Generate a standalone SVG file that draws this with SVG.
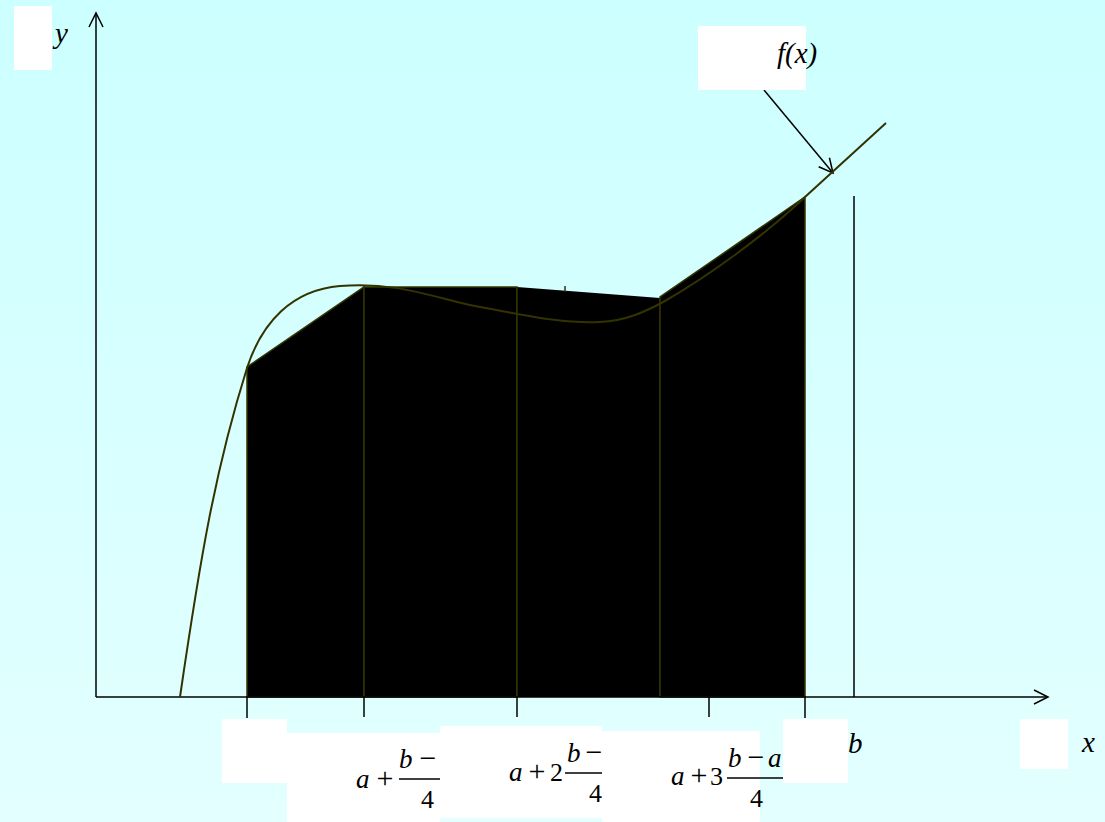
<svg xmlns="http://www.w3.org/2000/svg" width="1105" height="822" viewBox="0 0 1105 822">
<defs>
<linearGradient id="bg" x1="0" y1="0" x2="0" y2="1">
<stop offset="0" stop-color="#CCFFFF"/>
<stop offset="1" stop-color="#E3FFFF"/>
</linearGradient>
<marker id="open" markerWidth="20" markerHeight="20" refX="16" refY="8" orient="auto" markerUnits="userSpaceOnUse">
<path d="M2,1 L16,8 L2,15" fill="none" stroke="#000" stroke-width="1.5"/>
</marker>
</defs>
<style>
.ax{stroke:#000;stroke-width:1.5;fill:none}
.sh{fill:#000;stroke:#333300;stroke-width:1.5}
.cv{fill:none;stroke:#333300;stroke-width:2}
.wb{fill:#fff}
.t{font-family:"Liberation Serif",serif;font-style:italic;font-size:29px;fill:#000}
.n{font-family:"Liberation Serif",serif;font-size:26px;fill:#000}
.op{font-family:"Liberation Serif",serif;font-size:30px;fill:#000;text-anchor:middle}
.it{font-family:"Liberation Serif",serif;font-style:italic;font-size:27px;fill:#000}
.fb{stroke:#000;stroke-width:1.3}
</style>
<rect width="1105" height="822" fill="url(#bg)"/>
<g id="shapes">
<polygon id="strip1" class="sh" points="247,697 247,367 364,287 364,697"/>
<polygon id="strip2" class="sh" points="364,697 364,287 517,287 517,697"/>
<polygon id="strip3" points="517,697 517,287 660,298 660,697" fill="#000"/>
<path d="M517,697 L517,287 M660,298 L660,697" fill="none" stroke="#333300" stroke-width="1.5"/>
<polygon id="strip4" class="sh" points="660,697 660,297 805,197 805,697"/>
<line x1="565" y1="286" x2="565" y2="292" stroke="#333300" stroke-width="1.5"/>
</g>
<g id="connectors">
<line class="ax" x1="96" y1="697" x2="96" y2="13" marker-end="url(#open)"/>
<line class="ax" x1="96" y1="697" x2="1048" y2="697" marker-end="url(#open)"/>
<line class="ax" x1="247" y1="697" x2="247" y2="718"/>
<line class="ax" x1="364" y1="697" x2="364" y2="717"/>
<line class="ax" x1="517" y1="697" x2="517" y2="717"/>
<line class="ax" x1="709" y1="697" x2="709" y2="717"/>
<line class="ax" x1="805" y1="697" x2="805" y2="718"/>
<line class="ax" x1="854" y1="196" x2="854" y2="697"/>
<line class="ax" x1="764" y1="90" x2="833" y2="173" marker-end="url(#open)"/>
</g>
<path id="curve" class="cv" d="M180,697 C200,560 215,470 247,368 C262,322 292,290 340,286 C400,281 440,300 480,307 C520,314 560,324 600,322 C625,321 645,312 665,301 C710,275 765,235 805,197 L886,123"/>
<g id="label-y">
<text class="t" x="55" y="43">y</text>
<rect class="wb" x="14" y="6" width="38" height="64"/>
</g>
<g id="label-fx">
<rect class="wb" x="698" y="26" width="108" height="64"/>
<text class="t" x="777" y="63">f(x)</text>
</g>
<g id="label-a">
<rect class="wb" x="222" y="719" width="65" height="64"/>
</g>
<g id="label-1">
<rect class="wb" x="287" y="733" width="153" height="89"/>
<text class="it" x="356" y="788">a</text>
<text class="op" x="385" y="788">+</text>
<line class="fb" x1="399" y1="779" x2="459" y2="779"/>
<text class="it" x="399" y="768">b</text>
<text class="op" x="428" y="768">−</text>
<text class="it" x="440" y="768">a</text>
<text class="n" x="421" y="808">4</text>
</g>
<g id="label-2">
<rect class="wb" x="440" y="726" width="162" height="92"/>
<text class="it" x="509" y="781">a</text>
<text class="op" x="537" y="781">+</text>
<text class="n" x="550" y="781">2</text>
<line class="fb" x1="565" y1="773" x2="625" y2="773"/>
<text class="it" x="567" y="762">b</text>
<text class="op" x="594" y="762">−</text>
<text class="it" x="606" y="762">a</text>
<text class="n" x="589" y="802">4</text>
</g>
<g id="label-3">
<rect class="wb" x="602" y="731" width="158" height="91"/>
<text class="it" x="671" y="785">a</text>
<text class="op" x="699" y="785">+</text>
<text class="n" x="710" y="785">3</text>
<line class="fb" x1="727" y1="778" x2="787" y2="778"/>
<text class="it" x="728" y="767">b</text>
<text class="op" x="756" y="767">−</text>
<text class="it" x="768" y="767">a</text>
<text class="n" x="750" y="807">4</text>
</g>
<g id="label-b">
<rect class="wb" x="783" y="719" width="65" height="64"/>
<text class="t" x="848" y="753">b</text>
</g>
<g id="label-x">
<rect class="wb" x="1020" y="719" width="48" height="50"/>
<text class="t" x="1082" y="752">x</text>
</g>
</svg>
